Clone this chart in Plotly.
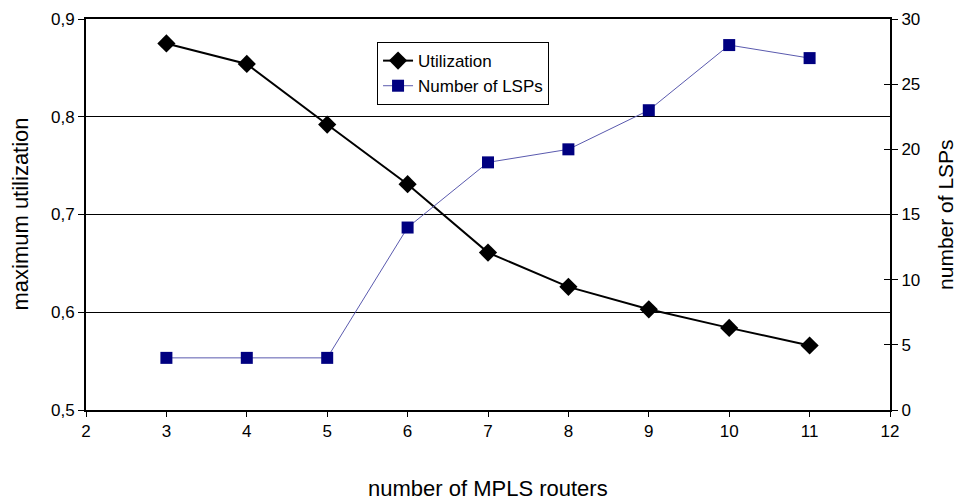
import plotly.graph_objects as go

routers = [3, 4, 5, 6, 7, 8, 9, 10, 11]
utilization = [0.875, 0.854, 0.792, 0.731, 0.661, 0.626, 0.603, 0.584, 0.566]
num_lsps = [4, 4, 4, 14, 19, 20, 23, 28, 27]

FONT = "Liberation Sans, Arial, sans-serif"

fig = go.Figure()
fig.add_trace(go.Scatter(
    x=routers, y=utilization, name="Utilization", mode="lines+markers",
    line=dict(color="black", width=2),
    marker=dict(symbol="diamond", size=14, color="black"),
    yaxis="y"))
fig.add_trace(go.Scatter(
    x=routers, y=num_lsps, name="Number of LSPs", mode="lines+markers",
    line=dict(color="#5a5aae", width=1),
    marker=dict(symbol="square", size=12, color="#000080"),
    yaxis="y2"))
fig.add_trace(go.Scatter(x=[None], y=[None], yaxis="y3", showlegend=False, hoverinfo="skip"))

fig.update_layout(
    width=962, height=502,
    margin=dict(l=86, r=72, t=19, b=92),
    paper_bgcolor="white", plot_bgcolor="white",
    separators=",.",
    font=dict(family=FONT, size=17, color="black"),
    showlegend=True,
    legend=dict(x=0.362, y=0.941, xanchor="left", yanchor="top",
                bordercolor="black", borderwidth=1, bgcolor="white",
                font=dict(size=17), tracegroupgap=0),
    xaxis=dict(range=[2, 12], dtick=1, tick0=2, showgrid=False, zeroline=False,
               showline=True, linecolor="black", linewidth=2, mirror=True,
               ticks="outside", ticklen=5, tickcolor="black", automargin=False),
    yaxis=dict(range=[0.5, 0.9], dtick=0.1, tickformat=".1f", showgrid=True,
               gridcolor="black", gridwidth=1, zeroline=False,
               showline=True, linecolor="black", linewidth=2,
               ticks="outside", ticklen=6, tickcolor="black", automargin=False),
    yaxis2=dict(range=[0, 30], dtick=5, overlaying="y", side="right", anchor="x",
                showgrid=False, zeroline=False, showline=True, linecolor="black",
                linewidth=2, ticks="outside", ticklen=6, tickcolor="black",
                automargin=False),
    yaxis3=dict(range=[0, 30], dtick=5, overlaying="y", side="right", anchor="x",
                showgrid=False, zeroline=False, showline=False, automargin=False,
                ticks="inside", ticklen=6, tickcolor="black", showticklabels=False),
    annotations=[
        dict(text="number of MPLS routers", xref="paper", yref="paper",
             x=0.5, y=-0.202, xanchor="center", yanchor="middle",
             showarrow=False, font=dict(size=22)),
        dict(text="maximum utilization", xref="paper", yref="paper",
             x=-0.082, y=0.5, xanchor="center", yanchor="middle", textangle=-90,
             showarrow=False, font=dict(size=22)),
        dict(text="number of LSPs", xref="paper", yref="paper",
             x=1.069, y=0.5, xanchor="center", yanchor="middle", textangle=-90,
             showarrow=False, font=dict(size=21)),
    ],
)

fig.write_html("out.html")
